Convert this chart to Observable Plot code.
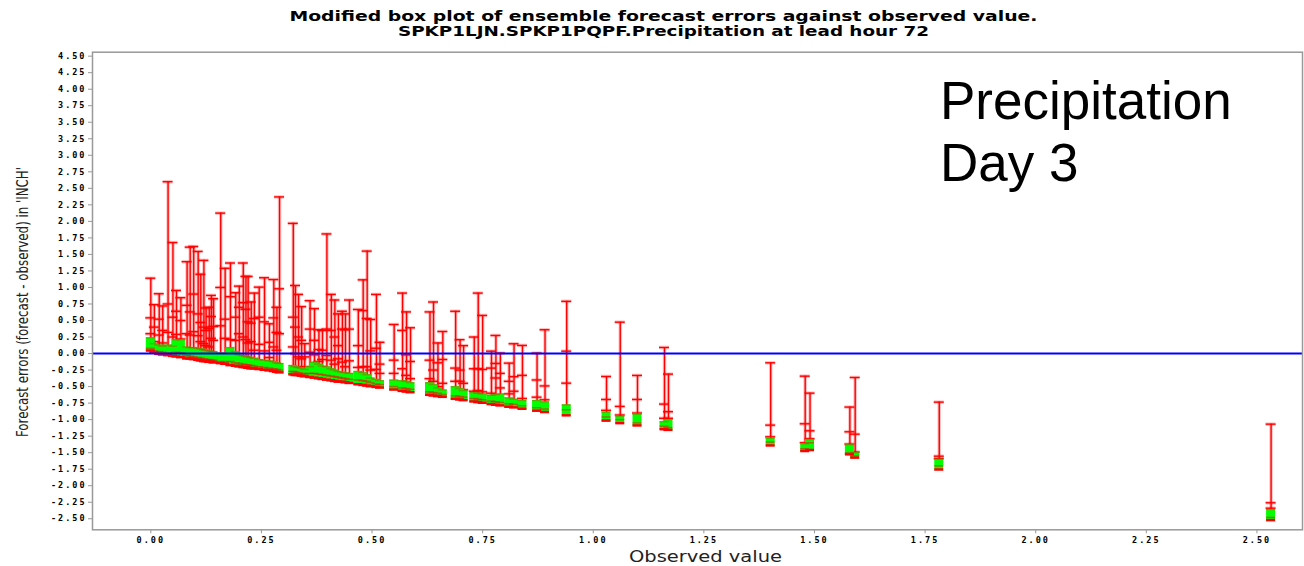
<!DOCTYPE html>
<html><head><meta charset="utf-8">
<script src="https://cdn.jsdelivr.net/npm/d3@7"></script>
<script src="https://cdn.jsdelivr.net/npm/@observablehq/plot@0.6"></script>
<style>
body{margin:0;background:#fff;width:1304px;height:566px;overflow:hidden;position:relative}
#title{height:44px;position:relative;font-family:"DejaVu Sans Condensed","DejaVu Sans",sans-serif;font-weight:bold;font-size:14px;line-height:14px;color:#000}
#title .line{position:absolute;left:11px;width:1304px;text-align:center;white-space:nowrap}
#title .line span{display:inline-block;transform-origin:50% 50%}
#overlay{position:absolute;left:940px;top:69.6px;font-family:"Liberation Sans",Arial,sans-serif;font-size:53px;line-height:62px;color:#000}
#chart svg{display:block}
</style></head><body>
<div id="title">
  <div class="line" style="top:9px"><span data-w="748">Modified box plot of ensemble forecast errors against observed value.</span></div>
  <div class="line" style="top:24px"><span data-w="531">SPKP1LJN.SPKP1PQPF.Precipitation at lead hour 72</span></div>
</div>
<div id="chart"></div>
<div id="overlay">Precipitation<br>Day 3</div>
<script>
// ---- data ----
const obs    = [0.000,0.008,0.019,0.027,0.039,0.050,0.058,0.068,0.082,0.089,0.097,0.107,0.113,0.120,0.125,0.132,0.137,0.142,0.158,0.168,0.180,0.192,0.200,0.209,0.215,0.220,0.227,0.234,0.245,0.257,0.268,0.278,0.285,0.291,
                0.322,0.327,0.334,0.341,0.348,0.360,0.370,0.380,0.388,0.398,0.408,0.416,0.424,0.433,0.440,0.449,0.469,0.480,0.489,0.497,0.510,0.518,0.550,0.569,0.578,0.587,0.631,0.639,0.649,0.660,0.689,0.699,0.707,0.731,0.740,0.750,0.770,0.780,0.790,0.810,0.821,0.840,0.873,0.891,0.940,
                1.030,1.061,1.100,1.161,1.170,1.401,1.479,1.490,1.580,1.592,1.782,2.532];
const maxErr = [1.14,0.74,0.905,0.72,2.60,1.68,0.955,0.845,1.39,1.61,1.62,1.545,1.20,1.41,0.69,0.70,0.88,0.83,2.125,1.29,1.37,0.92,1.02,1.37,1.167,1.167,0.78,0.915,1.005,1.147,0.45,1.12,0.70,2.37,
                1.97,1.03,0.895,0.71,0.15,0.80,0.68,0.36,0.35,1.81,0.895,0.81,0.60,0.64,0.60,0.81,0.667,1.115,1.55,0.516,0.895,0.17,0.44,0.915,0.63,0.39,0.63,0.78,0.16,0.334,0.64,0.21,0.12,0.25,0.915,0.577,0.036,0.274,0.006,-0.145,0.148,0.123,0.006,0.36,0.79,
                -0.347,0.475,-0.331,0.092,-0.311,-0.14,-0.342,-0.599,-0.81,-0.362,-0.735,-1.068];
const tick1  = [0.54,0.40,0.52,0.35,0.75,0.55,0.64,0.50,0.73,0.63,0.90,0.60,0.47,0.40,0.35,0.38,0.56,0.41,1.00,0.52,0.86,0.55,0.70,0.77,0.67,0.48,0.46,0.53,0.55,0.48,0.17,0.54,0.32,0.98,
                0.55,0.40,0.25,0.20,-0.05,0.37,0.20,0.06,0.05,0.37,0.35,0.25,0.12,0.37,0.36,0.37,0.12,0.65,0.53,0.04,0.08,-0.16,-0.10,0.35,-0.02,-0.12,-0.10,-0.25,-0.14,-0.09,-0.22,-0.25,-0.45,-0.23,-0.23,-0.24,-0.22,-0.15,-0.30,-0.42,-0.35,-0.33,-0.40,-0.49,0.036,
                -0.695,-0.80,-0.695,-0.765,-0.88,-1.083,-1.063,-1.169,-1.184,-1.22,-1.553,-2.258];
const tick2  = [0.30,0.18,0.28,0.16,0.32,0.25,0.29,0.22,0.30,0.28,0.33,0.27,0.18,0.15,0.12,0.10,0.23,0.20,0.42,0.23,0.21,0.20,0.30,0.25,0.21,0.16,0.18,0.05,0.14,0.04,-0.06,0.10,0.05,0.30,
                0.10,0.00,-0.05,-0.08,-0.20,0.02,-0.02,-0.12,-0.09,-0.03,-0.10,-0.16,-0.08,-0.13,-0.20,-0.11,-0.21,-0.20,-0.20,-0.25,-0.24,-0.30,-0.30,-0.23,-0.33,-0.38,-0.38,-0.42,-0.50,-0.45,-0.42,-0.42,-0.55,-0.57,-0.56,-0.58,-0.60,-0.37,-0.52,-0.61,-0.57,-0.68,-0.66,-0.70,-0.448,
                -0.86,-0.93,-0.90,-0.98,-0.98,-1.26,-1.35,-1.29,-1.37,-1.49,-1.59,-2.34];
const boxTop = [0.24,0.15,0.13,0.11,0.13,0.11,0.21,0.21,0.10,0.09,0.09,0.08,0.07,0.06,0.05,0.04,0.03,0.03,0.01,0.00,0.09,0.03,-0.02,-0.03,-0.04,-0.05,-0.06,-0.07,-0.09,-0.10,-0.11,-0.12,-0.14,-0.15,
                -0.18,-0.20,-0.21,-0.22,-0.24,-0.20,-0.13,-0.16,-0.19,-0.20,-0.23,-0.25,-0.27,-0.28,-0.29,-0.30,-0.27,-0.29,-0.32,-0.37,-0.39,-0.41,-0.40,-0.41,-0.42,-0.44,-0.44,-0.47,-0.52,-0.55,-0.50,-0.53,-0.56,-0.59,-0.60,-0.61,-0.63,-0.62,-0.61,-0.67,-0.69,-0.71,-0.71,-0.73,-0.775,
                -0.887,-0.952,-0.917,-1.03,-1.00,-1.28,-1.365,-1.30,-1.38,-1.50,-1.60,-2.36];
const boxMid = [0.08,0.04,0.03,0.02,0.01,0.00,0.02,0.01,-0.03,-0.04,-0.05,-0.06,-0.07,-0.08,-0.09,-0.09,-0.10,-0.10,-0.12,-0.13,-0.12,-0.14,-0.15,-0.16,-0.17,-0.17,-0.18,-0.19,-0.20,-0.21,-0.22,-0.23,-0.24,-0.25,
                -0.27,-0.28,-0.29,-0.30,-0.31,-0.30,-0.30,-0.31,-0.32,-0.33,-0.34,-0.35,-0.36,-0.37,-0.38,-0.39,-0.40,-0.41,-0.42,-0.44,-0.46,-0.47,-0.50,-0.52,-0.53,-0.54,-0.58,-0.59,-0.60,-0.62,-0.64,-0.65,-0.66,-0.68,-0.69,-0.70,-0.72,-0.73,-0.74,-0.76,-0.77,-0.79,-0.82,-0.84,-0.85,
                -0.96,-1.00,-1.05,-1.10,-1.12,-1.34,-1.44,-1.35,-1.50,-1.55,-1.70,-2.48];
const boxBot = [0.03,0.00,-0.02,-0.03,-0.04,-0.05,-0.06,-0.07,-0.09,-0.09,-0.10,-0.11,-0.12,-0.13,-0.13,-0.14,-0.14,-0.15,-0.16,-0.17,-0.19,-0.20,-0.21,-0.22,-0.22,-0.23,-0.24,-0.24,-0.25,-0.26,-0.27,-0.28,-0.29,-0.30,
                -0.33,-0.34,-0.34,-0.35,-0.36,-0.37,-0.38,-0.39,-0.40,-0.41,-0.42,-0.43,-0.44,-0.44,-0.45,-0.46,-0.48,-0.49,-0.50,-0.51,-0.52,-0.53,-0.56,-0.58,-0.59,-0.60,-0.64,-0.65,-0.66,-0.67,-0.70,-0.71,-0.72,-0.74,-0.75,-0.76,-0.78,-0.79,-0.80,-0.82,-0.83,-0.85,-0.88,-0.90,-0.95,
                -1.03,-1.068,-1.103,-1.16,-1.17,-1.406,-1.49,-1.475,-1.54,-1.59,-1.77,-2.536];
const xTicks = [0,0.25,0.5,0.75,1,1.25,1.5,1.75,2,2.25,2.5];
const yTicks = [-2.5,-2.25,-2,-1.75,-1.5,-1.25,-1,-0.75,-0.5,-0.25,0,0.25,0.5,0.75,1,1.25,1.5,1.75,2,2.25,2.5,2.75,3,3.25,3.5,3.75,4,4.25,4.5];
const xLabel = "Observed value";
const yLabel = "Forecast errors (forecast - observed) in 'INCH'";

// ---- build ----
const rows = obs.map((x, i) => ({x, hi: maxErr[i], t1: tick1[i], t2: tick2[i], top: boxTop[i], med: boxMid[i], bot: boxBot[i]}));
const ticksRows = rows.flatMap(d => [{x: d.x, y: d.hi}, {x: d.x, y: d.t1}, {x: d.x, y: d.t2}]);

const W = 1304, H = 522, mL = 92, mR = 2, mT = 7.7, mB = 36.7;
const xDomain = [-0.1318, 2.603];
const pxPerUnit = (W - mL - mR) / (xDomain[1] - xDomain[0]);
const hwBox = 4.5 / pxPerUnit, hwCap = 5 / pxPerUnit;
const fmt = d => d.toFixed(2);

const chart = Plot.plot({
  width: W, height: H,
  marginTop: mT, marginBottom: mB, marginLeft: mL, marginRight: mR,
  x: {domain: xDomain},
  y: {domain: [-2.667, 4.56]},
  style: {fontFamily: "'DejaVu Sans Mono', monospace", fontSize: "8.5px", fontWeight: "bold", background: "#fff", color: "#000", overflow: "visible"},
  marks: [
    Plot.axisX({ticks: xTicks, tickFormat: fmt, tickSize: 4, tickPadding: 3, stroke: "#999", label: xLabel, labelAnchor: "center", labelOffset: 30, labelArrow: "none"}),
    Plot.axisY({ticks: yTicks, tickFormat: fmt, tickSize: 4, tickPadding: 2, stroke: "#999", label: yLabel, labelAnchor: "center", labelOffset: 70, labelArrow: "none"}),
    Plot.ruleX(rows, {x: "x", y1: "bot", y2: "hi", stroke: "#ff0000", strokeOpacity: 0.25, strokeWidth: 3.5}),
    Plot.ruleX(rows, {x: "x", y1: "bot", y2: "hi", stroke: "#ff0000", strokeWidth: 1.4}),
    Plot.ruleY(ticksRows, {y: "y", x1: d => d.x - hwCap, x2: d => d.x + hwCap, stroke: "#ff0000", strokeOpacity: 0.25, strokeWidth: 3.5}),
    Plot.ruleY(ticksRows, {y: "y", x1: d => d.x - hwCap, x2: d => d.x + hwCap, stroke: "#ff0000", strokeWidth: 1.4}),
    Plot.rect(rows, {x1: d => d.x - hwBox, x2: d => d.x + hwBox, y1: "bot", y2: "top", fill: "#00ff00"}),
    Plot.ruleY(rows, {y: "top", x1: d => d.x - hwBox, x2: d => d.x + hwBox, stroke: "#ff0000", strokeOpacity: 0.3, strokeWidth: 1.5}),
    Plot.ruleY(rows, {y: "med", x1: d => d.x - hwBox, x2: d => d.x + hwBox, stroke: "#ff0000", strokeOpacity: 0.5, strokeWidth: 1.5}),
    Plot.ruleY(rows, {y: "bot", x1: d => d.x - hwBox, x2: d => d.x + hwBox, stroke: "#ff0000", strokeWidth: 2.5, dy: -1}),
    Plot.ruleY([0], {stroke: "#0000ff", strokeWidth: 2}),
    Plot.frame({stroke: "#999", strokeWidth: 1.5})
  ]
});
document.getElementById("chart").appendChild(chart);

// tick label spacing
chart.querySelectorAll('g[aria-label="x-axis tick label"] text, g[aria-label="y-axis tick label"] text')
  .forEach(t => t.style.letterSpacing = "2px");
// axis labels
function shift(g, dx, dy) {
  const prev = g.getAttribute("transform") || "";
  g.setAttribute("transform", `${prev} translate(${dx},${dy})`);
}
const xl = chart.querySelector('g[aria-label="x-axis label"] text');
if (xl) {
  xl.textContent = xLabel;
  xl.setAttribute("font-family", "DejaVu Sans, sans-serif");
  xl.setAttribute("font-size", "16px");
  xl.setAttribute("font-weight", "normal");
  xl.setAttribute("fill", "#222");
  xl.setAttribute("textLength", "153");
  xl.setAttribute("lengthAdjust", "spacingAndGlyphs");
  shift(xl.parentNode, 8, 2);
}
const yl = chart.querySelector('g[aria-label="y-axis label"] text');
if (yl) {
  yl.textContent = yLabel;
  yl.setAttribute("font-family", "DejaVu Sans Condensed, DejaVu Sans, sans-serif");
  yl.setAttribute("font-size", "15px");
  yl.setAttribute("font-weight", "normal");
  yl.setAttribute("fill", "#222");
  yl.setAttribute("textLength", "270");
  yl.setAttribute("lengthAdjust", "spacingAndGlyphs");
  shift(yl.parentNode, -5, 11);
}
// title stretch to match the reference widths
document.querySelectorAll("#title span").forEach(s => {
  const w = s.getBoundingClientRect().width;
  s.style.transform = `scaleX(${(+s.dataset.w / w).toFixed(4)})`;
});
</script>
</body></html>
